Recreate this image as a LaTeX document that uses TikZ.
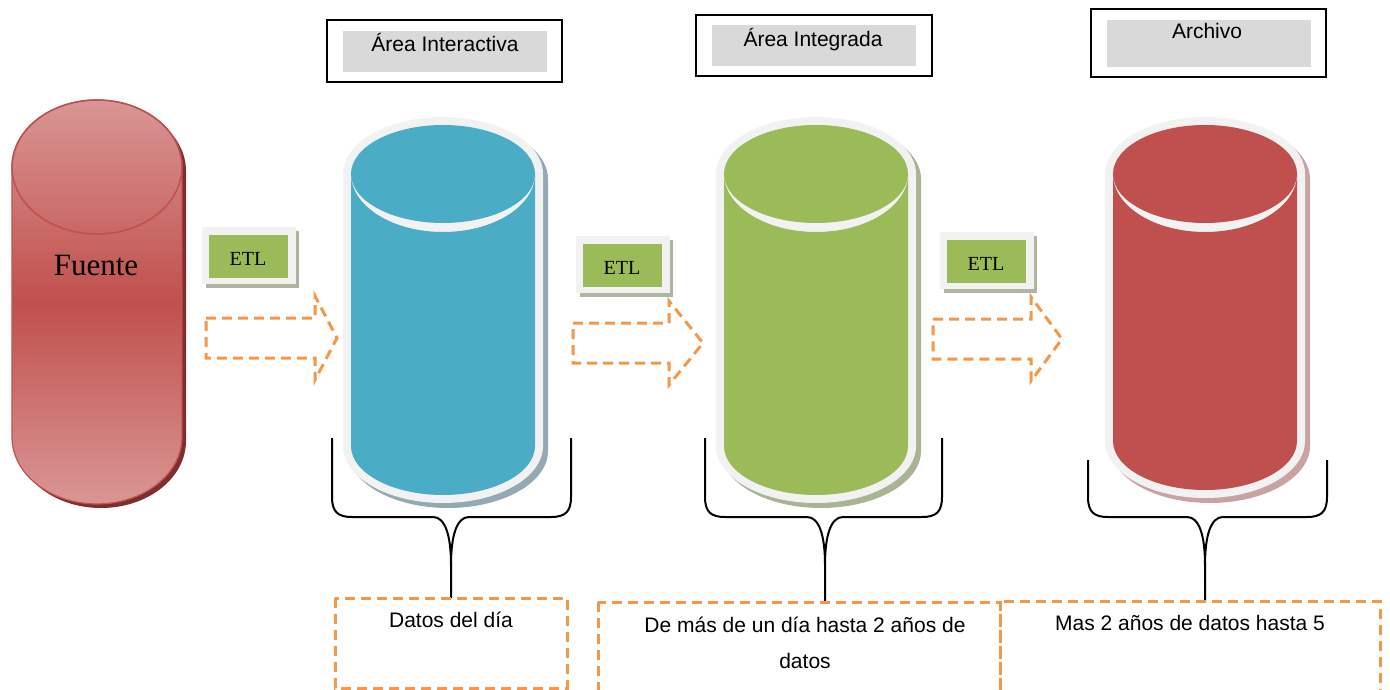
\documentclass[tikz,border=0pt]{standalone}
\usepackage{fontspec}
\setmainfont{Liberation Serif}
\newfontfamily\arialfont{Liberation Sans}
\usepackage{tikz}

\definecolor{dbBlue}{HTML}{4BACC6}
\definecolor{dbGreen}{HTML}{9BBB59}
\definecolor{dbRed}{HTML}{C0504D}
\definecolor{shBlue}{HTML}{93A9B3}
\definecolor{shGreen}{HTML}{A9B493}
\definecolor{shRed}{HTML}{C9A2A2}
\definecolor{rimGrey}{HTML}{F2F2F2}
\definecolor{etlShadow}{HTML}{AEB69F}
\definecolor{dashOrange}{HTML}{F79646}
\definecolor{titleGrey}{HTML}{D9D9D9}
\definecolor{fuenteLight}{HTML}{D99694}
\definecolor{fuenteDark}{HTML}{7E2F2D}

\tikzset{
  dashline/.style={draw=dashOrange, line width=3pt, dash pattern=on 10pt off 6pt},
  titlebox/.style={draw=black, line width=1.8pt},
  titletext/.style={font=\arialfont\fontsize{21}{25}\selectfont, inner sep=0pt, anchor=base},
  datatext/.style={font=\arialfont\fontsize{21}{36}\selectfont, align=center, inner sep=0pt, anchor=base},
  etltext/.style={font=\fontsize{20}{24}\selectfont, inner sep=0pt, anchor=base},
  bracket/.style={draw=black, line width=2pt},
}

\begin{document}
\begin{tikzpicture}[x=1pt, y=-1pt]
  \useasboundingbox (0,0) rectangle (1390,690);

  % cylinder outline: centre x, top y, bottom y, x radius, bottom y radius, top y radius
  \def\cylPath#1#2#3#4#5#6{
    ({#1-#4},{#2}) -- ({#1-#4},{#3})
    .. controls ({#1-#4},{#3+0.552*#5}) and ({#1-0.552*#4},{#3+#5}) .. ({#1},{#3+#5})
    .. controls ({#1+0.552*#4},{#3+#5}) and ({#1+#4},{#3+0.552*#5}) .. ({#1+#4},{#3})
    -- ({#1+#4},{#2})
    .. controls ({#1+#4},{#2-0.552*#6}) and ({#1+0.552*#4},{#2-#6}) .. ({#1},{#2-#6})
    .. controls ({#1-0.552*#4},{#2-#6}) and ({#1-#4},{#2-0.552*#6}) .. ({#1-#4},{#2}) -- cycle
  }

  \def\drawDB#1#2#3#4{
    \fill[#4] \cylPath{#1+5}{179}{#2+5}{100}{57}{57};
    \fill[rimGrey] \cylPath{#1}{174}{#2}{100}{57}{57};
    \fill[#3] \cylPath{#1}{174}{#2}{92}{49}{(-58)};
    \fill[#3] (#1,174) ellipse [x radius=92, y radius=49];
  }

  \def\drawETL#1#2#3{
    \fill[etlShadow] ({#1+4},{#2+4}) rectangle ({#1+97},{#2+61});
    \fill[rimGrey] (#1,#2) rectangle ({#1+94},{#2+57});
    \fill[dbGreen] ({#1+7},{#2+8}) rectangle ({#1+86},{#2+51});
    \node[etltext] (#3) at ({#1+46},{#2+38}) {ETL};
  }

  % left x, back of head, tip x, centre y
  \def\drawArrow#1#2#3#4{
    \draw[dashline] (#1,{#4-20}) -- (#2,{#4-20}) -- (#2,{#4-42}) -- (#3,#4)
      -- (#2,{#4+42}) -- (#2,{#4+20}) -- (#1,{#4+20}) -- cycle;
  }

  % left x, right x, top y, tip x, tip
  \def\drawBrace#1#2#3#4#5{
    \draw[bracket] (#1,#3) -- (#1,497) .. controls (#1,512) and ({#1+6},517) .. ({#1+20},517)
      -- ({#4-18},517) .. controls ({#4-6},517) and (#4,535) .. (#4,565) -- (#5);
    \draw[bracket] (#2,#3) -- (#2,497) .. controls (#2,512) and ({#2-6},517) .. ({#2-20},517)
      -- ({#4+18},517) .. controls ({#4+6},517) and (#4,535) .. (#4,565);
  }

  % Fuente
  \fill[fuenteDark] \cylPath{101}{171}{441}{85}{67}{67};
  \shade[top color=fuenteLight, bottom color=fuenteLight, middle color=dbRed,
    draw=dbRed, line width=1.2pt] \cylPath{97}{167}{437}{85}{67}{67};
  \draw[dbRed, line width=1.5pt] (97,167) ellipse [x radius=85, y radius=67];
  \node[font=\fontsize{31}{35}\selectfont, inner sep=0pt, anchor=base] (fuente) at (96,275) {Fuente};

  % the three stores
  \drawDB{443}{446}{dbBlue}{shBlue}
  \drawDB{816}{446}{dbGreen}{shGreen}
  \drawDB{1205}{441}{dbRed}{shRed}

  % titles
  \draw[titlebox] (327,20) rectangle (562,82);
  \fill[titleGrey] (343,31) rectangle (547,72);
  \node[titletext] (tInter) at (445,52) {Área Interactiva};
  \draw[titlebox] (696,15) rectangle (932,76);
  \fill[titleGrey] (712,25) rectangle (916,66);
  \node[titletext] (tInteg) at (813,47) {Área Integrada};
  \draw[titlebox] (1091,9) rectangle (1326,77);
  \fill[titleGrey] (1107,20) rectangle (1311,67);
  \node[titletext] (tArch) at (1207,39) {Archivo};

  % ETL steps
  \drawETL{202}{227}{etlA}
  \drawETL{576}{236}{etlB}
  \drawETL{940}{232}{etlC}
  \drawArrow{206}{315}{337}{338}
  \drawArrow{573}{669}{703}{343}
  \drawArrow{933}{1031}{1062}{339}

  % retention boxes
  \coordinate (tipA) at (451,598);
  \coordinate (tipB) at (825,602);
  \coordinate (tipC) at (1205,601);
  \drawBrace{332}{571}{438}{451}{tipA}
  \drawBrace{705}{942}{438}{825}{tipB}
  \drawBrace{1088}{1327}{460}{1205}{tipC}
  \draw[dashline] (335,598) rectangle (567,688);
  \draw[dashline] (598,602) rectangle (1000,700);
  \draw[dashline] (1000,601) rectangle (1380,700);
  \node[datatext] (dDia) at (451,627) {Datos del día};
  \node[datatext] (dInteg) at (805,668) {De más de un día hasta 2 años de\\datos};
  \node[datatext] (dArch) at (1190,630) {Mas 2 años de datos hasta 5};
\end{tikzpicture}
\end{document}
